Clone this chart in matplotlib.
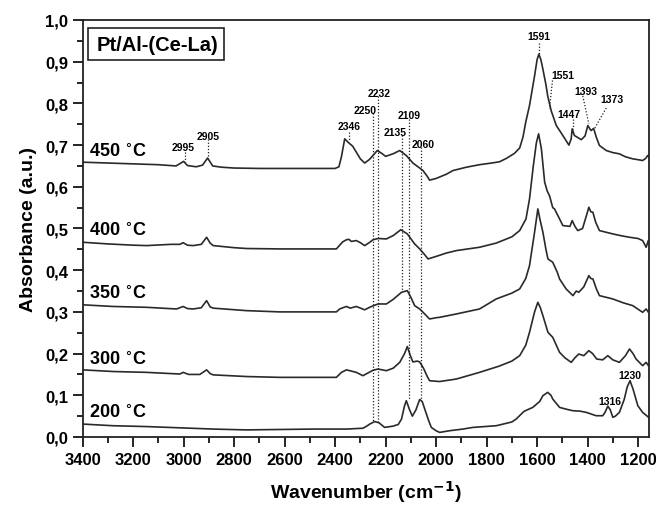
import matplotlib
matplotlib.use("Agg")
import matplotlib.pyplot as plt
from matplotlib.ticker import MultipleLocator, FuncFormatter
from matplotlib.patches import Rectangle

plt.rcParams['font.family'] = ['Liberation Sans', 'DejaVu Sans']
plt.rcParams['font.weight'] = 'bold'

# ---------------- data (wavenumber, absorbance) ----------------
wn_450 = [3400, 3300, 3200, 3100, 3030, 3000, 2985, 2950, 2925, 2905, 2885, 2850, 2800, 2700, 2600, 2500, 2400,
          2385, 2375, 2362, 2349, 2330, 2316, 2300, 2283, 2265, 2256, 2233, 2215, 2200, 2171, 2144, 2118, 2092,
          2065, 2052, 2035, 2026, 2000, 1960, 1933, 1880, 1828, 1780, 1749, 1722, 1690, 1669, 1656, 1645, 1630,
          1610, 1600, 1593, 1585, 1577, 1565, 1558, 1551, 1544, 1524, 1498, 1474, 1465, 1461, 1455, 1452, 1425,
          1410, 1399, 1390, 1386, 1376, 1365, 1353, 1326, 1300, 1274, 1250, 1221, 1200, 1182, 1170, 1162, 1158]
ab_450 = [0.659, 0.657, 0.655, 0.653, 0.650, 0.661, 0.651, 0.648, 0.652, 0.669, 0.650, 0.647, 0.645, 0.644, 0.644,
          0.644, 0.644, 0.648, 0.672, 0.715, 0.707, 0.697, 0.683, 0.667, 0.657, 0.665, 0.671, 0.687, 0.680, 0.673,
          0.679, 0.687, 0.675, 0.657, 0.645, 0.639, 0.625, 0.616, 0.620, 0.630, 0.639, 0.647, 0.653, 0.657, 0.660,
          0.668, 0.680, 0.693, 0.719, 0.755, 0.795, 0.866, 0.905, 0.918, 0.905, 0.882, 0.845, 0.818, 0.800, 0.782,
          0.747, 0.723, 0.700, 0.715, 0.739, 0.728, 0.723, 0.713, 0.722, 0.747, 0.738, 0.735, 0.740, 0.718, 0.699,
          0.687, 0.682, 0.679, 0.672, 0.667, 0.665, 0.663, 0.668, 0.675, 0.672]

wn_400 = [3400, 3300, 3200, 3147, 3050, 3015, 3002, 2985, 2962, 2930, 2909, 2895, 2883, 2800, 2751, 2619, 2500,
          2395, 2382, 2370, 2355, 2345, 2336, 2316, 2300, 2283, 2265, 2250, 2230, 2197, 2170, 2140, 2114, 2085,
          2065, 2045, 2032, 2000, 1960, 1920, 1828, 1762, 1700, 1669, 1644, 1630, 1615, 1603, 1594, 1583, 1570,
          1560, 1551, 1538, 1531, 1511, 1498, 1470, 1461, 1450, 1439, 1420, 1405, 1395, 1387, 1379, 1368, 1353,
          1320, 1300, 1270, 1234, 1200, 1182, 1168, 1160]
ab_400 = [0.467, 0.463, 0.460, 0.459, 0.462, 0.462, 0.466, 0.460, 0.459, 0.462, 0.479, 0.465, 0.459, 0.454, 0.452,
          0.451, 0.451, 0.451, 0.460, 0.468, 0.473, 0.474, 0.469, 0.471, 0.466, 0.459, 0.466, 0.473, 0.476, 0.475,
          0.483, 0.497, 0.487, 0.463, 0.451, 0.437, 0.427, 0.433, 0.441, 0.447, 0.455, 0.465, 0.480, 0.495, 0.523,
          0.571, 0.650, 0.705, 0.727, 0.691, 0.611, 0.590, 0.579, 0.550, 0.547, 0.523, 0.507, 0.505, 0.519, 0.505,
          0.495, 0.500, 0.530, 0.551, 0.540, 0.539, 0.515, 0.495, 0.490, 0.487, 0.483, 0.479, 0.476, 0.471, 0.455,
          0.470]

wn_350 = [3400, 3279, 3147, 3028, 3002, 2985, 2962, 2930, 2909, 2895, 2883, 2751, 2619, 2395, 2382, 2365, 2355,
          2340, 2316, 2283, 2260, 2230, 2197, 2170, 2137, 2114, 2100, 2085, 2065, 2045, 2026, 2000, 1986, 1920,
          1828, 1762, 1700, 1669, 1645, 1630, 1610, 1597, 1588, 1577, 1565, 1557, 1538, 1520, 1511, 1485, 1458,
          1445, 1435, 1415, 1395, 1387, 1379, 1365, 1353, 1300, 1260, 1221, 1182, 1168, 1160]
ab_350 = [0.317, 0.313, 0.311, 0.307, 0.313, 0.308, 0.307, 0.310, 0.327, 0.312, 0.309, 0.303, 0.300, 0.300, 0.307,
          0.311, 0.313, 0.309, 0.313, 0.305, 0.312, 0.319, 0.319, 0.330, 0.347, 0.351, 0.335, 0.315, 0.307, 0.295,
          0.283, 0.286, 0.287, 0.295, 0.307, 0.331, 0.345, 0.355, 0.380, 0.411, 0.491, 0.547, 0.520, 0.491, 0.450,
          0.427, 0.419, 0.395, 0.379, 0.355, 0.339, 0.350, 0.347, 0.360, 0.387, 0.380, 0.379, 0.355, 0.339, 0.331,
          0.322, 0.315, 0.299, 0.307, 0.300]

wn_300 = [3400, 3279, 3147, 3015, 3002, 2980, 2936, 2909, 2895, 2883, 2751, 2619, 2395, 2375, 2355, 2342, 2316,
          2290, 2250, 2230, 2197, 2170, 2144, 2125, 2114, 2102, 2092, 2075, 2065, 2050, 2035, 2026, 1986, 1920,
          1828, 1750, 1700, 1669, 1645, 1630, 1610, 1597, 1587, 1577, 1557, 1538, 1511, 1490, 1465, 1450, 1435,
          1415, 1395, 1380, 1364, 1340, 1320, 1300, 1274, 1250, 1234, 1220, 1208, 1182, 1168, 1160]
ab_300 = [0.161, 0.157, 0.155, 0.151, 0.155, 0.150, 0.150, 0.161, 0.152, 0.149, 0.145, 0.143, 0.143, 0.155, 0.161,
          0.159, 0.155, 0.147, 0.160, 0.163, 0.159, 0.165, 0.179, 0.200, 0.217, 0.195, 0.180, 0.182, 0.180, 0.165,
          0.145, 0.135, 0.133, 0.139, 0.155, 0.170, 0.182, 0.195, 0.220, 0.251, 0.300, 0.323, 0.310, 0.291, 0.251,
          0.239, 0.203, 0.190, 0.179, 0.190, 0.199, 0.195, 0.207, 0.200, 0.187, 0.185, 0.195, 0.185, 0.179, 0.195,
          0.211, 0.200, 0.187, 0.171, 0.179, 0.172]

wn_200 = [3400, 3279, 3147, 3015, 2883, 2751, 2619, 2487, 2355, 2290, 2275, 2263, 2243, 2226, 2204, 2171, 2150,
          2137, 2125, 2118, 2105, 2094, 2080, 2065, 2055, 2045, 2030, 2019, 2000, 1986, 1947, 1894, 1854, 1762,
          1700, 1683, 1656, 1650, 1617, 1590, 1577, 1558, 1545, 1538, 1511, 1480, 1458, 1430, 1405, 1366, 1340,
          1330, 1320, 1310, 1300, 1290, 1274, 1255, 1243, 1232, 1220, 1201, 1182, 1158]
ab_200 = [0.031, 0.027, 0.025, 0.022, 0.019, 0.017, 0.018, 0.019, 0.019, 0.021, 0.026, 0.031, 0.037, 0.034, 0.023,
          0.026, 0.030, 0.043, 0.075, 0.087, 0.065, 0.050, 0.065, 0.090, 0.085, 0.067, 0.040, 0.023, 0.015, 0.011,
          0.015, 0.019, 0.023, 0.027, 0.036, 0.043, 0.059, 0.062, 0.071, 0.085, 0.099, 0.107, 0.100, 0.091, 0.071,
          0.066, 0.063, 0.062, 0.059, 0.051, 0.051, 0.060, 0.074, 0.065, 0.047, 0.050, 0.059, 0.090, 0.120, 0.135,
          0.115, 0.075, 0.059, 0.047]

series_labels = ["450 $^{\\circ}$C", "400 $^{\\circ}$C", "350 $^{\\circ}$C", "300 $^{\\circ}$C", "200 $^{\\circ}$C"]
label_abs = [0.674, 0.484, 0.333, 0.175, 0.047]

# peak annotations: text, label x, label y, line x0, y0, x1, y1
peak_text = ["2995", "2905", "2346", "2250", "2232", "2135", "2109", "2060",
             "1591", "1551", "1447", "1393", "1373", "1316", "1230"]
peak_lx = [3001, 2904, 2346, 2281, 2227, 2162, 2105, 2051, 1593, 1499, 1472, 1406, 1305, 1313, 1233]
peak_ly = [0.695, 0.722, 0.746, 0.785, 0.825, 0.732, 0.771, 0.703, 0.962, 0.868, 0.775, 0.830, 0.811, 0.087, 0.149]
line_x0 = [2995, 2905, 2346, 2250, 2232, 2135, 2109, 2060, 1591, 1539, 1459, 1419, 1326, None, None]
line_y0 = [0.683, 0.715, 0.731, 0.777, 0.818, 0.724, 0.763, 0.695, 0.945, 0.855, 0.763, 0.818, 0.789, None, None]
line_x1 = [2995, 2905, 2346, 2250, 2232, 2135, 2109, 2060, 1591, 1551, 1459, 1395, 1373, None, None]
line_y1 = [0.659, 0.671, 0.710, 0.036, 0.036, 0.350, 0.091, 0.091, 0.918, 0.787, 0.739, 0.751, 0.739, None, None]

# ---------------- plot ----------------
fig = plt.figure(figsize=(6.56, 5.06), dpi=100)
ax = fig.add_axes([0.126, 0.1344, 0.864, 0.8241])

for wn, ab in [(wn_450, ab_450), (wn_400, ab_400), (wn_350, ab_350), (wn_300, ab_300), (wn_200, ab_200)]:
    ax.plot(wn, ab, color='#2a2a2a', lw=1.2)

for i, t in enumerate(peak_text):
    if line_x0[i] is not None:
        ax.plot([line_x0[i], line_x1[i]], [line_y0[i], line_y1[i]], color='#222222',
                lw=0.9, ls=(0, (1, 1.5)))
    ax.text(peak_lx[i], peak_ly[i], t, fontsize=7.5, fontweight='bold', ha='center', va='center')

for lab, y in zip(series_labels, label_abs):
    ax.text(3374, y, lab, fontsize=13, fontweight='bold', ha='left', va='baseline')

ax.add_patch(Rectangle((0.0088, 0.9034), 0.2411, 0.0766, transform=ax.transAxes,
                       fc='white', ec='#222222', lw=1.2, zorder=3))
ax.text(0.0247, 0.9418, "Pt/Al-(Ce-La)", transform=ax.transAxes, fontsize=14.5, fontweight='bold',
        ha='left', va='center', zorder=4)

ax.set_xlim(3400, 1155)
ax.set_ylim(0, 1.0)
ax.xaxis.set_major_locator(MultipleLocator(200))
ax.xaxis.set_minor_locator(MultipleLocator(100))
ax.yaxis.set_major_locator(MultipleLocator(0.1))
ax.yaxis.set_minor_locator(MultipleLocator(0.05))
ax.yaxis.set_major_formatter(FuncFormatter(lambda v, p: f"{v:.1f}".replace('.', ',')))
ax.tick_params(which='both', direction='out', top=False, right=False, width=1.2)
ax.tick_params(which='major', length=7, labelsize=12)
ax.tick_params(which='minor', length=4)
for lab in ax.get_xticklabels() + ax.get_yticklabels():
    lab.set_fontweight('bold')
for s in ax.spines.values():
    s.set_linewidth(1.3)
    s.set_color('#222222')

ax.set_xlabel("Wavenumber (cm$^{\\mathbf{-1}}$)", fontsize=14, fontweight='bold', labelpad=8)
ax.set_ylabel("Absorbance (a.u.)", fontsize=14, fontweight='bold', labelpad=6)

fig.savefig("out.png", dpi=100)
